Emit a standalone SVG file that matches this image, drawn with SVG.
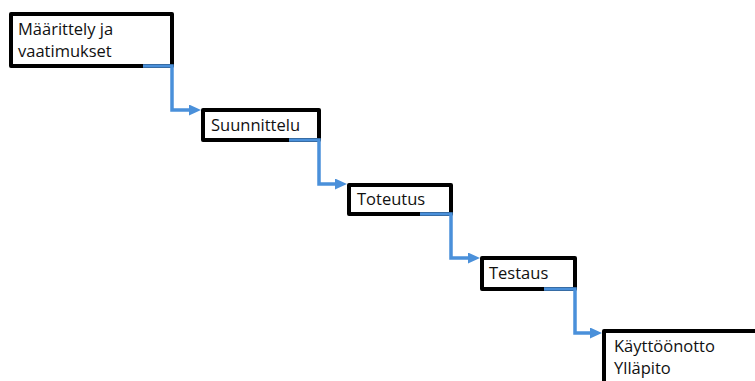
<svg xmlns="http://www.w3.org/2000/svg" width="755" height="381" viewBox="0 0 755 381">
<style>
.box{fill:#fff;stroke:#000;stroke-width:4;stroke-linejoin:round}
.lbl{font-family:"Open Sans","Liberation Sans",sans-serif;font-size:16.5px;fill:#111}
.con{fill:none;stroke:#4A90DA;stroke-width:3.5;stroke-linejoin:miter}
</style>
<defs>
<marker id="ah" viewBox="0 0 12 11" refX="5" refY="5.5" markerWidth="12" markerHeight="11" markerUnits="userSpaceOnUse" orient="auto">
<path d="M0,0 L12,5.5 L0,11 z" fill="#4A90DA"/>
</marker>
</defs>
<g id="n1"><rect class="box" x="11" y="14" width="161" height="52"/><text class="lbl" x="18" y="35">Määrittely ja</text><text class="lbl" x="18" y="57">vaatimukset</text></g>
<g id="n2"><rect class="box" x="203" y="110" width="116" height="30"/><text class="lbl" x="211" y="131">Suunnittelu</text></g>
<g id="n3"><rect class="box" x="349" y="185" width="102" height="29"/><text class="lbl" x="357" y="205">Toteutus</text></g>
<g id="n4"><rect class="box" x="482" y="258" width="93" height="31"/><text class="lbl" x="489" y="279">Testaus</text></g>
<g id="n5"><rect class="box" x="604" y="331" width="200" height="100"/><text class="lbl" x="614" y="352">Käyttöönotto</text><text class="lbl" x="614" y="374">Ylläpito</text></g>
<g id="connectors">
<path class="con" d="M143,66 H172 V110 H194" marker-end="url(#ah)"/>
<path class="con" d="M289,140 H319 V184 H340" marker-end="url(#ah)"/>
<path class="con" d="M420,214 H451 V258 H473" marker-end="url(#ah)"/>
<path class="con" d="M544,289 H575 V333 H595" marker-end="url(#ah)"/>
</g>
</svg>
